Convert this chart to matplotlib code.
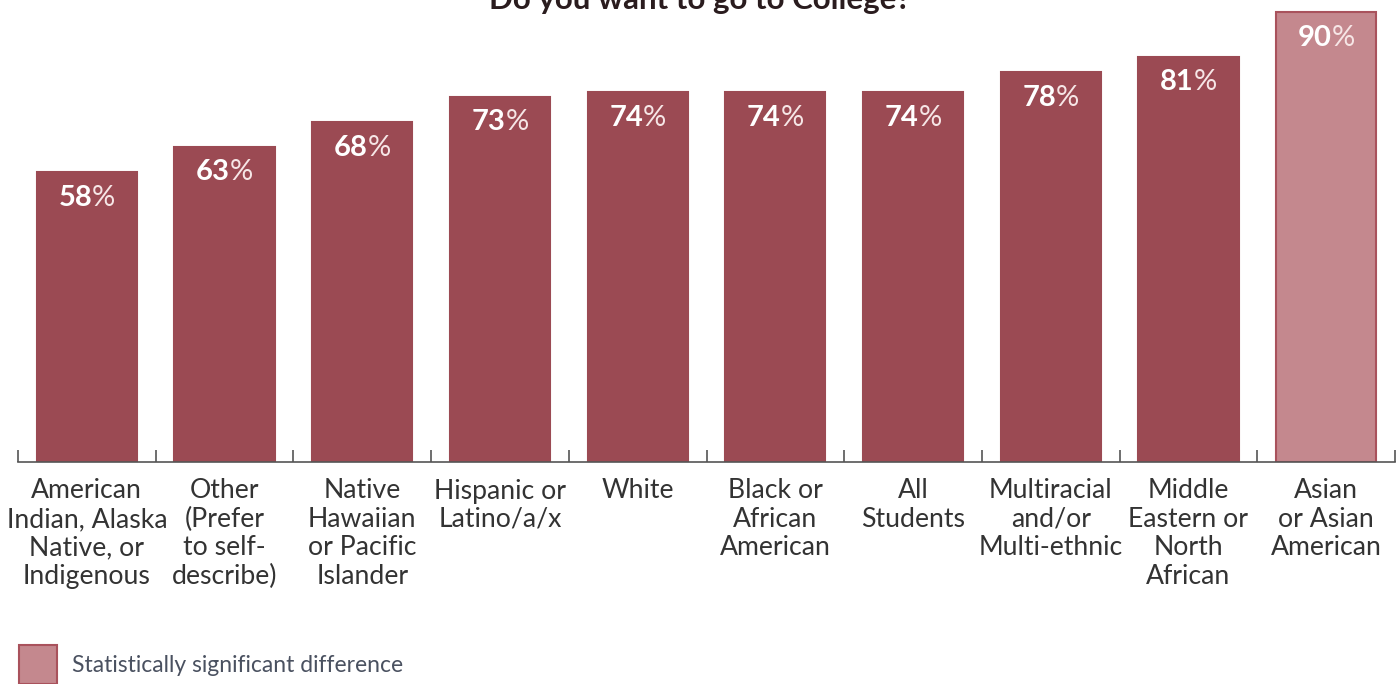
import matplotlib
matplotlib.use("Agg")
import matplotlib.pyplot as plt
from matplotlib.offsetbox import TextArea, HPacker, AnnotationBbox
from matplotlib.patches import Rectangle

categories = [
    "American\nIndian, Alaska\nNative, or\nIndigenous",
    "Other\n(Prefer\nto self-\ndescribe)",
    "Native\nHawaiian\nor Pacific\nIslander",
    "Hispanic or\nLatino/a/x",
    "White",
    "Black or\nAfrican\nAmerican",
    "All\nStudents",
    "Multiracial\nand/or\nMulti-ethnic",
    "Middle\nEastern or\nNorth\nAfrican",
    "Asian\nor Asian\nAmerican",
]
values = [58, 63, 68, 73, 74, 74, 74, 78, 81, 90]
significant = [False, False, False, False, False, False, False, False, False, True]
title = "Do you want to go to College?"
legend_label = "Statistically significant difference"

DARK = "#9b4a53"
LIGHT = "#c4888e"
LIGHT_EDGE = "#a9525c"

plt.rcParams["font.family"] = ["Lato", "DejaVu Sans"]

W, H = 1400, 684
fig = plt.figure(figsize=(W / 100, H / 100), dpi=100)
base_px = 462
ax = fig.add_axes([18 / W, (H - base_px) / H, 1377 / W, base_px / H])
ax.set_xlim(-0.5, len(values) - 0.5)
ax.set_ylim(0, base_px / 5.0)

x = list(range(len(values)))
colors = [LIGHT if s else DARK for s in significant]
edges = [LIGHT_EDGE if s else DARK for s in significant]
ax.bar(x, values, width=0.727, color=colors, edgecolor=edges, linewidth=1.5, zorder=2)

for xi, v, s in zip(x, values, significant):
    num = TextArea(str(v), textprops=dict(color="white", fontsize=21, fontweight="bold"))
    pct = TextArea("%", textprops=dict(color="#f6e6e6", fontsize=21, fontweight="normal"))
    pack = HPacker(children=[num, pct], pad=0, sep=0, align="baseline")
    ab = AnnotationBbox(pack, (xi, v), xybox=(0, -9), boxcoords="offset points",
                        box_alignment=(0.5, 1), frameon=False, pad=0, zorder=3)
    ax.add_artist(ab)

for side in ["top", "right", "left"]:
    ax.spines[side].set_visible(False)
ax.spines["bottom"].set_color("#555555")
ax.spines["bottom"].set_linewidth(1.2)
ax.set_yticks([])

ax.set_xticks([i - 0.5 for i in range(len(values) + 1)])
ax.set_xticklabels([])
ax.tick_params(axis="x", direction="in", length=9, width=1.2, color="#555555")
for xi, lab in zip(x, categories):
    ax.text(xi, -3.3, lab, ha="center", va="top", fontsize=19.2, color="#333333",
            linespacing=1.17, transform=ax.transData, clip_on=False)

fig.text(0.5, 1 - 9 / H, title, ha="center", va="baseline", fontsize=22.5,
         fontweight="bold", color="#2a1c1e")

fig.patches.append(Rectangle((19 / W, 0 / H), 38 / W, 39 / H, transform=fig.transFigure,
                             facecolor=LIGHT, edgecolor=LIGHT_EDGE, linewidth=1.5))
fig.text(72 / W, 1 - 665 / H, legend_label, ha="left", va="center", fontsize=16.5,
         color="#4a5160")

fig.savefig("out.png", dpi=100)
